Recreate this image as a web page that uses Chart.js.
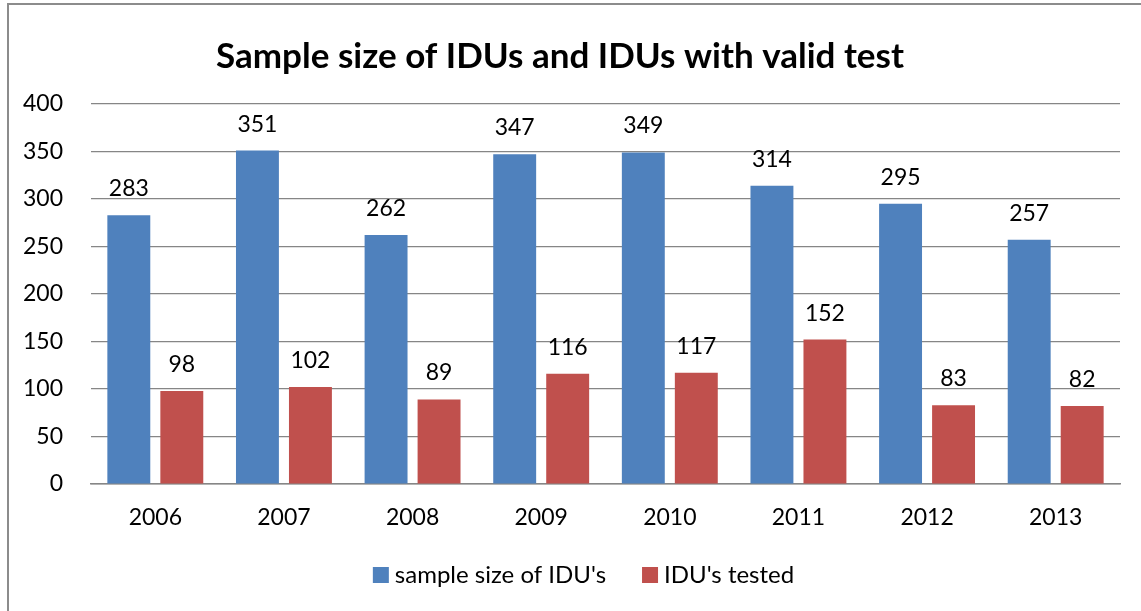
<!DOCTYPE html>
<html>
<head>
<meta charset="utf-8">
<script src="https://cdn.jsdelivr.net/npm/chart.js@4"></script>
<style>
  html, body { margin: 0; padding: 0; background: #fff; }
  #wrap { position: relative; width: 1141px; height: 611px; }
  #frame {
    position: absolute; left: 7px; top: 3px; width: 1200px; height: 700px;
    border-left: 2px solid #8c8c8c; border-top: 2px solid #8c8c8c;
    pointer-events: none;
  }
</style>
</head>
<body>
<div id="wrap">
  <canvas id="chart" width="1141" height="611"></canvas>
  <div id="frame"></div>
</div>
<script>
const years = ['2006', '2007', '2008', '2009', '2010', '2011', '2012', '2013'];
const sampleSize = [283, 351, 262, 347, 349, 314, 295, 257];
const tested = [98, 102, 89, 116, 117, 152, 83, 82];
const yTicks = [0, 50, 100, 150, 200, 250, 300, 350, 400];

const FONT = 'Lato';

// value labels above each bar
const barLabels = {
    id: 'barLabels',
    afterDatasetsDraw(chart) {
        const ctx = chart.ctx;
        ctx.save();
        ctx.font = '23px ' + FONT;
        ctx.fillStyle = '#000';
        ctx.textAlign = 'center';
        ctx.textBaseline = 'alphabetic';
        chart.data.datasets.forEach((ds, i) => {
            chart.getDatasetMeta(i).data.forEach((bar, j) => {
                ctx.fillText(ds.data[j], bar.x, bar.y - 19);
            });
        });
        ctx.restore();
    }
};

// Excel-style legend row under the axis (square swatch, tight text gap)
const legendRow = {
    id: 'legendRow',
    afterDraw(chart) {
        const ctx = chart.ctx;
        ctx.save();
        ctx.font = '24px ' + FONT;
        const box = 16, textGap = 6, itemGap = 36;
        const items = chart.data.datasets.map(ds => ({
            text: ds.label,
            color: ds.backgroundColor,
            w: ctx.measureText(ds.label).width
        }));
        const total = items.reduce((s, it) => s + box + textGap + it.w, 0) + itemGap * (items.length - 1);
        let x = chart.width / 2 + 13 - total / 2;
        const y = chart.chartArea.bottom + 91;
        ctx.textBaseline = 'middle';
        ctx.textAlign = 'left';
        items.forEach(it => {
            ctx.fillStyle = it.color;
            ctx.fillRect(x, y - box / 2, box, box);
            ctx.fillStyle = '#000';
            ctx.fillText(it.text, x + box + textGap, y);
            x += box + textGap + it.w + itemGap;
        });
        ctx.restore();
    }
};

const ctx = document.getElementById('chart').getContext('2d');

new Chart(ctx, {
    type: 'bar',
    data: {
        labels: years,
        datasets: [{
            label: "sample size of IDU's",
            data: sampleSize,
            backgroundColor: '#4F81BD'
        }, {
            label: "IDU's tested",
            data: tested,
            backgroundColor: '#C0504D'
        }]
    },
    options: {
        responsive: false,
        animation: false,
        barPercentage: 0.81,
        categoryPercentage: 0.824,
        layout: { padding: { left: 0, right: 21, top: 0, bottom: 57 } },
        scales: {
            x: {
                grid: { display: false },
                border: { color: '#868686', width: 1.5 },
                ticks: { color: '#000', font: { family: FONT, size: 23 }, padding: 12 },
                afterFit(scale) { scale.height = 70; }
            },
            y: {
                min: 0,
                max: 400,
                afterBuildTicks(scale) { scale.ticks = yTicks.map(v => ({ value: v })); },
                grid: { color: '#868686', lineWidth: 1.2, drawTicks: false },
                border: { display: false },
                ticks: { color: '#000', font: { family: FONT, size: 23 }, padding: 28 },
                afterFit(scale) { scale.width = 91; }
            }
        },
        plugins: {
            title: {
                display: true,
                text: 'Sample size of IDUs and IDUs with valid test',
                color: '#000',
                font: { family: FONT, size: 35, weight: 'bold' },
                padding: { top: 36, bottom: 26 }
            },
            legend: { display: false },
            tooltip: { enabled: false }
        }
    },
    plugins: [barLabels, legendRow]
});
</script>
</body>
</html>
